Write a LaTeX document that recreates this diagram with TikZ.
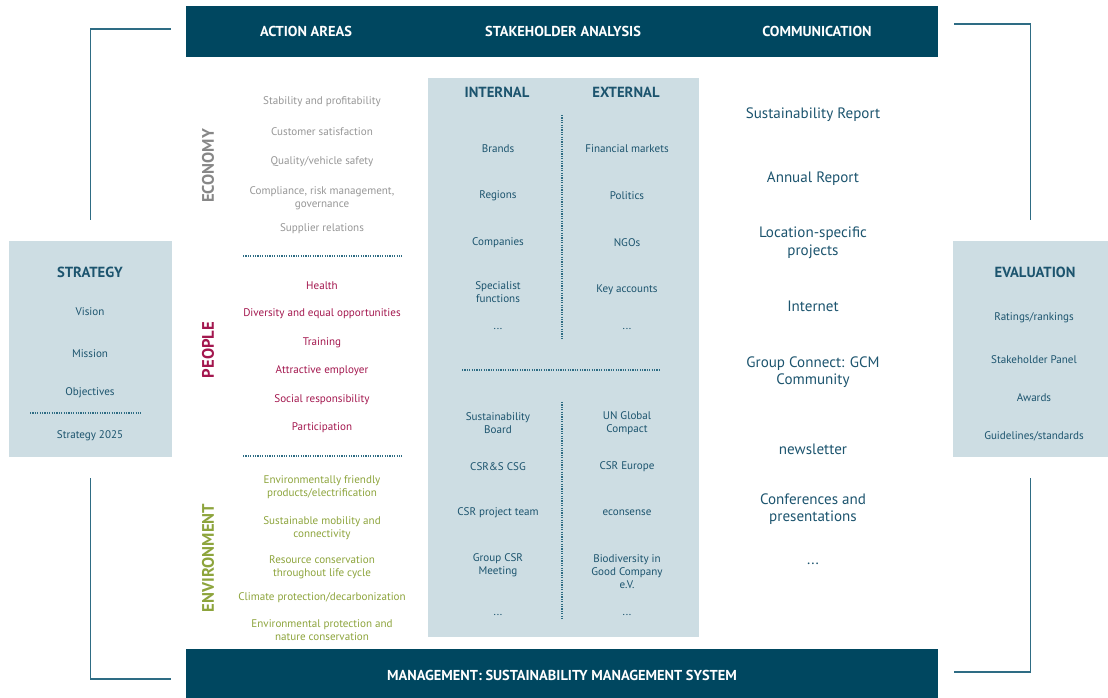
\documentclass[tikz,border=0pt]{standalone}
\usepackage{fontspec}
\setmainfont{PT Sans}
\definecolor{navy}{RGB}{0,71,96}
\definecolor{panel}{RGB}{205,221,227}
\definecolor{ink}{RGB}{28,84,110}
\definecolor{ecogray}{RGB}{150,150,150}
\definecolor{peoplered}{RGB}{163,23,78}
\definecolor{envgreen}{RGB}{141,164,60}
\definecolor{rule}{RGB}{46,108,132}
\newcommand{\etcdots}{...}
\tikzset{
  bar/.style={fill=navy, inner sep=0pt},
  panelbox/.style={fill=panel, inner sep=0pt},
  head/.style={text=white, font=\bfseries\fontsize{10.8}{13}\selectfont},
  colhead/.style={text=ink, font=\bfseries\fontsize{11}{13}\selectfont},
  item/.style={text=ink, align=center, yshift=-1.4pt, font=\fontsize{8.3}{9.9}\selectfont},
  comm/.style={text=ink, align=center, yshift=-1.4pt, font=\fontsize{11.3}{13}\selectfont},
  area/.style={rotate=90, font=\bfseries\fontsize{12.5}{14}\selectfont},
  dots/.style={rule, line width=1.1pt, dash pattern=on 0.9pt off 0.9pt},
  bracket/.style={rule, line width=1.1pt}
}
\begin{document}
\begin{tikzpicture}[x=0.75pt,y=-0.75pt]
\useasboundingbox (0,0) rectangle (1108,698);
% bars and panels
\node[bar, minimum width=564pt, minimum height=38.25pt] (top) at (562,31.5) {};
\node[bar, minimum width=564pt, minimum height=36.75pt] (mgmt) at (562,673.5) {};
\node[panelbox, minimum width=203.25pt, minimum height=419.25pt] (stake) at (563.5,357.5) {};
\node[panelbox, minimum width=122.25pt, minimum height=162pt] (strat) at (90.5,349) {};
\node[panelbox, minimum width=116.25pt, minimum height=162pt] (eval) at (1030.5,349) {};
\node[head] (hact) at (306,31) {ACTION AREAS};
\node[head] (hstake) at (563,31) {STAKEHOLDER ANALYSIS};
\node[head] (hcomm) at (817,31) {COMMUNICATION};
\node[head] (hmgmt) at (562,675) {MANAGEMENT: SUSTAINABILITY MANAGEMENT SYSTEM};
% brackets
\draw[bracket, shorten <=11.25pt, shorten >=15.75pt] ([yshift=1.9pt]top.west) -| (strat);
\draw[bracket, shorten <=11.25pt, shorten >=15.75pt] ([yshift=-4.1pt]mgmt.west) -| (strat);
\draw[bracket, shorten <=12pt, shorten >=15.75pt] ([yshift=5.6pt]top.east) -| (eval);
\draw[bracket, shorten <=12pt, shorten >=15.75pt] ([yshift=1.1pt]mgmt.east) -| (eval);
% action areas
\node[area, text=ecogray!90!black] (eco) at (208,166) {ECONOMY};
\node[area, text=peoplered] (ppl) at (208,350) {PEOPLE};
\node[area, text=envgreen] (env) at (208,558) {ENVIRONMENT};
\foreach \i/\y/\t in {1/100/Stability and profitability, 2/130/Customer satisfaction, 3/160/Quality\slash vehicle safety, 4/196/{Compliance, risk management,\\governance}, 5/227/Supplier relations}
  \node[item, text=ecogray] (eco\i) at (322,\y) {\t};
\foreach \i/\y/\t in {1/284/Health, 2/312/Diversity and equal opportunities, 3/341/Training, 4/369/Attractive employer, 5/398/Social responsibility, 6/426/Participation}
  \node[item, text=peoplered] (ppl\i) at (322,\y) {\t};
\foreach \i/\y/\t in {1/485/Environmentally friendly\\products\slash electrification, 2/526/Sustainable mobility and\\connectivity, 3/565/Resource conservation\\throughout life cycle, 4/596/Climate protection\slash decarbonization, 5/628/Environmental protection and\\nature conservation}
  \node[item, text=envgreen] (env\i) at (322,\y) {\t};
\coordinate (d1a) at (243,256); \coordinate (d1b) at (402,256);
\coordinate (d2a) at (243,456); \coordinate (d2b) at (402,456);
\draw[dots] (d1a) -- (d1b); \draw[dots] (d2a) -- (d2b);
% stakeholder analysis
\node[colhead] (int) at (497,92) {INTERNAL};
\node[colhead] (ext) at (626,92) {EXTERNAL};
\foreach \i/\y/\t in {1/147/Brands, 2/194/Regions, 3/241/Companies, 4/290/Specialist\\functions, 5/327/\etcdots, 6/421/Sustainability\\Board, 7/465/CSR\&S CSG, 8/511/CSR project team, 9/563/Group CSR\\Meeting, 10/613/\etcdots}
  \node[item] (int\i) at (498,\y) {\t};
\foreach \i/\y/\t in {1/147/Financial markets, 2/194/Politics, 3/241/NGOs, 4/288/Key accounts, 5/327/\etcdots, 6/421/UN Global\\Compact, 7/465/CSR Europe, 8/511/econsense, 9/570/Biodiversity in\\Good Company\\e.V., 10/613/\etcdots}
  \node[item] (ext\i) at (627,\y) {\t};
\coordinate (v1a) at (562,115); \coordinate (v1b) at (562,340);
\coordinate (v2a) at (562,402); \coordinate (v2b) at (562,620);
\coordinate (h1a) at (462,370); \coordinate (h1b) at (661,370);
\draw[dots] (v1a) -- (v1b); \draw[dots] (v2a) -- (v2b); \draw[dots] (h1a) -- (h1b);
% communication
\foreach \i/\y/\t in {1/113/Sustainability Report, 2/177/Annual Report, 3/241/Location-specific\\projects, 4/304/Internet, 5/370/Group Connect: GCM\\Community, 6/447/newsletter, 7/507/Conferences and\\presentations, 8/562/\etcdots}
  \node[comm] (com\i) at (813,\y) {\t};
% strategy
\node[colhead] (shead) at (90,272) {STRATEGY};
\foreach \i/\y/\t in {1/310/Vision, 2/352/Mission, 3/391/Objectives, 4/434/Strategy 2025}
  \node[item] (str\i) at (90,\y) {\t};
\coordinate (d3a) at (30,413); \coordinate (d3b) at (141,413);
\draw[dots] (d3a) -- (d3b);
% evaluation
\node[colhead] (ehead) at (1035,272) {EVALUATION};
\foreach \i/\y/\t in {1/316/Ratings\slash rankings, 2/358/Stakeholder Panel, 3/396/Awards, 4/434/Guidelines\slash standards}
  \node[item] (evl\i) at (1034,\y) {\t};
\end{tikzpicture}
\end{document}
